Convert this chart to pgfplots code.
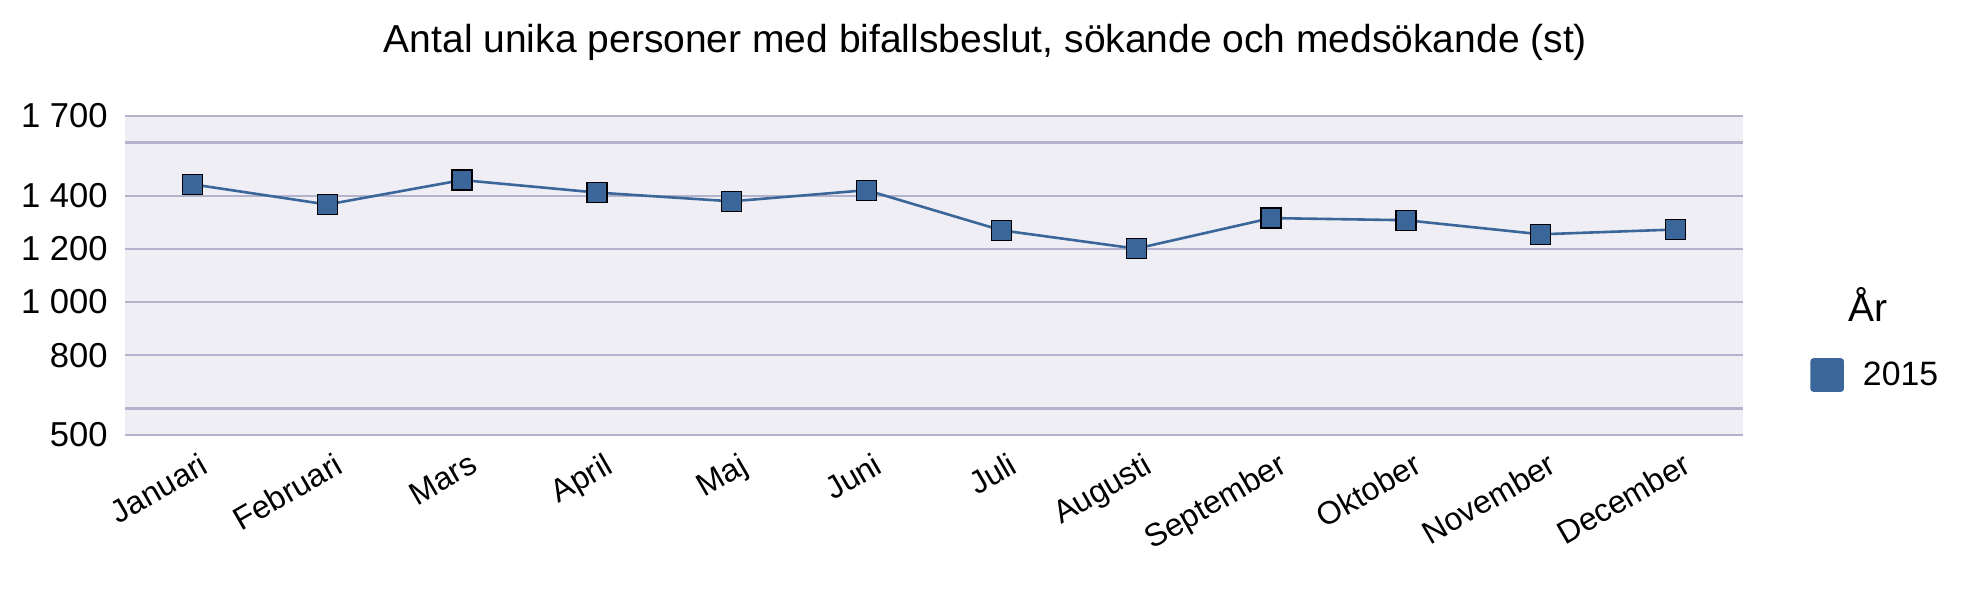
\documentclass[border=0pt]{standalone}
\usepackage{fontspec}
\setmainfont{Liberation Sans}
\usepackage{pgfplots}
\pgfplotsset{compat=1.18}
\definecolor{bgcol}{HTML}{EFEEF4}
\definecolor{gridcol}{HTML}{B3B4CB}
\definecolor{c2015}{HTML}{3A6699}
\begin{document}
\begin{tikzpicture}
\useasboundingbox (0,0) rectangle (989pt,-296.5pt);
\node[anchor=base, font=\fontsize{19.5}{23}\selectfont, inner sep=0pt] at (492.75pt,-26.5pt)
  {Antal unika personer med bifallsbeslut, sökande och medsökande (st)};
\node[anchor=base, font=\fontsize{19.5}{23}\selectfont, inner sep=0pt] at (934pt,-161pt) {År};
\begin{axis}[
  at={(62.5pt,-217.5pt)}, anchor=south west,
  scale only axis, width=809pt, height=159.5pt,
  xmin=-0.5, xmax=11.5, ymin=500, ymax=1700,
  axis background/.style={fill=bgcol},
  axis line style={draw=none},
  major tick length=0pt,
  ymajorgrids, grid style={gridcol, line width=1.2pt},
  ytick={500,600,800,1000,1200,1400,1600,1700},
  yticklabels={500,{},800,1 000,1 200,1 400,{},1 700},
  yticklabel style={font=\fontsize{17.3}{20}\selectfont, anchor=east, inner sep=0pt, xshift=-8.5pt},
  xtick={0,...,11},
  xticklabels={Januari,Februari,Mars,April,Maj,Juni,Juli,Augusti,September,Oktober,November,December},
  xticklabel style={font=\fontsize{16}{19}\selectfont, inner sep=0pt, xshift=3pt, yshift=-8pt, rotate=30, anchor=north east},
  /pgf/number format/assume math mode=true,
  legend style={at={(rel axis cs:1.0414,0.188)}, anchor=west, draw=none, fill=none,
    inner sep=0pt, font=\fontsize{16.9}{19}\selectfont, column sep=0pt,
    nodes={inner sep=0pt}},
  legend image code/.code={\fill[c2015, rounded corners=1pt] (0pt,-7.75pt) rectangle (15.5pt,7.75pt);},
  legend cell align=left,
]
\addplot[c2015, line width=1.3pt, mark=square*, mark size=5pt,
  mark options={fill=c2015, draw=black, line width=0.6pt}]
  coordinates {(0,1443) (1,1367) (2,1459) (3,1412) (4,1379) (5,1421)
               (6,1270) (7,1201) (8,1316) (9,1308) (10,1255) (11,1273)};
\addlegendentry{\hspace{9.5pt}2015}
\end{axis}
\end{tikzpicture}
\end{document}
